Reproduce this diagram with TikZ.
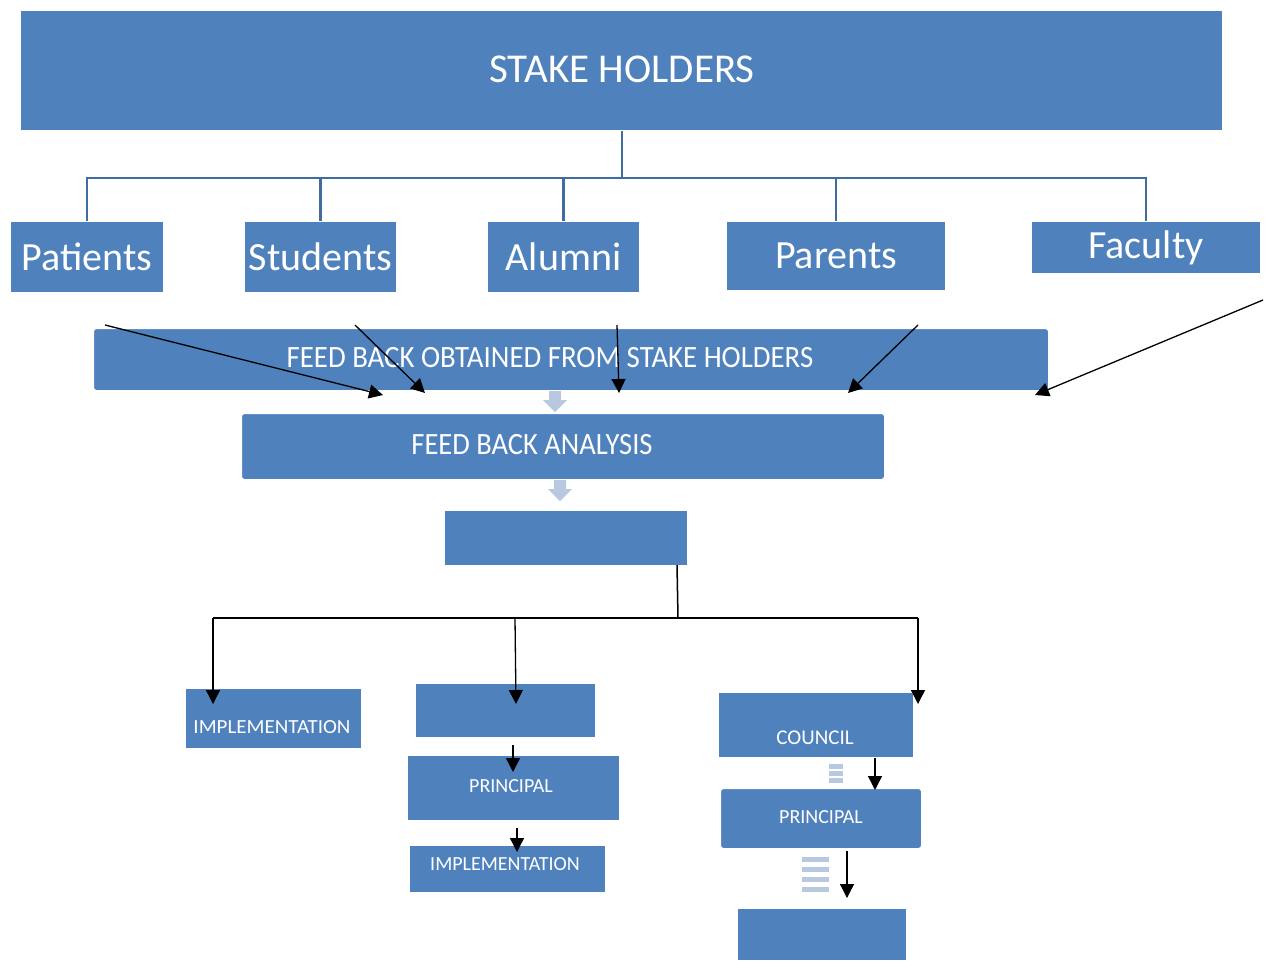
\documentclass[tikz,border=0pt]{standalone}
\usepackage{fontspec}
\setmainfont{Carlito}
\usetikzlibrary{arrows.meta}
\definecolor{sablue}{HTML}{4F81BD}
\definecolor{linkblue}{HTML}{416CA0}
\definecolor{paleblue}{HTML}{B8C8E0}
\tikzset{
  bluebox/.style={draw=white, line width=1pt, fill=sablue, text=white, inner sep=0pt, anchor=north west},
  roundbox/.style={bluebox, rounded corners=3pt},
  orgline/.style={draw=linkblue, line width=2.5pt},
  blackarrow/.style={draw=black, line width=1.3pt, -{Triangle[length=14pt,width=14pt]}},
  paleshape/.style={fill=paleblue, draw=none},
  boxtext/.style={text=white, inner sep=0pt}
}
\newcommand{\bx}[6]{% name, x1, y1, x2, y2, style
  \node[#6, minimum width=#4-#2, minimum height=#5-#3] (#1) at (#2,#3) {};}
\begin{document}
\begin{tikzpicture}[x=1pt,y=-1pt]
\useasboundingbox (0,0) rectangle (1271,962);
% top level
\bx{top}{20}{10}{1222}{130}{bluebox}
\node[boxtext, font=\fontsize{41}{44}\selectfont] at (622,69) {STAKE HOLDERS};
% stakeholders
\bx{pat}{10}{221}{163}{292}{bluebox}
\bx{stu}{244}{221}{396}{292}{bluebox}
\bx{alu}{487}{221}{639}{292}{bluebox}
\bx{par}{726}{221}{945}{290}{bluebox}
\bx{fac}{1031}{221}{1260}{273}{bluebox}
\foreach \n/\t in {pat/Patients, stu/Students, alu/Alumni, par/Parents, fac/Faculty}
  \node[boxtext, font=\fontsize{40}{44}\selectfont] at (\n.center) {\t};
% org connectors
\coordinate (bus) at (622,178);
\draw[orgline] (top.south -| bus) -- (bus);
\draw[orgline] (pat.north) |- (bus) -| (fac.north);
\foreach \n in {stu, alu, par} \draw[orgline] (\n.north |- bus) -- (\n.north);
% feedback obtained
\bx{obt}{93}{328}{1048}{390}{roundbox}
\node[boxtext, font=\fontsize{31}{34}\selectfont, xscale=0.93] at (550,358) {FEED BACK OBTAINED FROM STAKE HOLDERS};
% analysis
\bx{ana}{241}{413}{884}{479}{roundbox}
\node[boxtext, font=\fontsize{31}{34}\selectfont, xscale=0.92] at (532,445) {FEED BACK ANALYSIS};
% action box
\bx{act}{444}{510}{687}{565}{bluebox}
% pale arrows between steps
\fill[paleshape] (549,391) -- (561,391) -- (561,400) -- (567,400) -- (555,412) -- (543,400) -- (549,400) -- cycle;
\fill[paleshape] (554,480) -- (566,480) -- (566,489) -- (572,489) -- (560,501) -- (548,489) -- (554,489) -- cycle;
% stakeholder arrows to feedback obtained
\coordinate (s1) at (105,325);
\coordinate (s2) at (355,325);
\coordinate (s3) at (617,325);
\coordinate (s4) at (918,325);
\coordinate (s5) at (1263,300);
\coordinate (e1) at (383,395);
\coordinate (e2) at (425,393);
\coordinate (e3) at (619,393);
\coordinate (e4) at (848,393);
\coordinate (e5) at (1035,395);
\foreach \i in {1,...,5} \draw[blackarrow] (s\i) -- (e\i);
% bottom branches
\bx{lb}{185}{688}{361}{748}{bluebox}
\node[boxtext, font=\fontsize{20}{22}\selectfont, xscale=1.05] at (272,727) {IMPLEMENTATION};
\bx{m1}{415}{683}{595}{737}{bluebox}
\bx{m2}{407}{755}{619}{820}{bluebox}
\node[boxtext, font=\fontsize{20}{22}\selectfont] at (511,786) {PRINCIPAL};
\bx{m3}{409}{845}{605}{892}{bluebox}
\node[boxtext, font=\fontsize{20}{22}\selectfont] at (505,864) {IMPLEMENTATION};
\bx{r1}{718}{692}{913}{757}{bluebox}
\node[boxtext, font=\fontsize{21}{23}\selectfont] at (815,738) {COUNCIL};
\bx{r2}{720}{788}{921}{848}{roundbox}
\node[boxtext, font=\fontsize{20}{22}\selectfont] at (821,817) {PRINCIPAL};
\bx{r3}{737}{908}{906}{960}{bluebox}
% pale small markers in right column
\fill[paleshape] (829,764) rectangle (843,769);
\fill[paleshape] (829,771) rectangle (843,776);
\fill[paleshape] (829,778) rectangle (843,783);
\fill[paleshape] (802,857) rectangle (829,862);
\fill[paleshape] (802,867) rectangle (829,872);
\fill[paleshape] (802,877) rectangle (829,882);
\fill[paleshape] (802,887) rectangle (829,892);
% tree from action box
\coordinate (split) at (678,618);
\coordinate (tl) at (213,618);
\coordinate (tm) at (515,618);
\coordinate (tr) at (918,618);
\draw[line width=1.5pt] (677,565) -- (split);
\draw[line width=1.5pt] (tl) -- (tr);
\draw[blackarrow] (tl) -- (213,704);
\draw[blackarrow] (tm) -- (516,704);
\draw[blackarrow] (tr) -- (918,704);
% small arrows in columns
\draw[blackarrow] (513,745) -- (513,772);
\draw[blackarrow] (517,828) -- (517,852);
\draw[blackarrow] (875,758) -- (875,790);
\draw[blackarrow] (847,851) -- (847,898);
\end{tikzpicture}
\end{document}
